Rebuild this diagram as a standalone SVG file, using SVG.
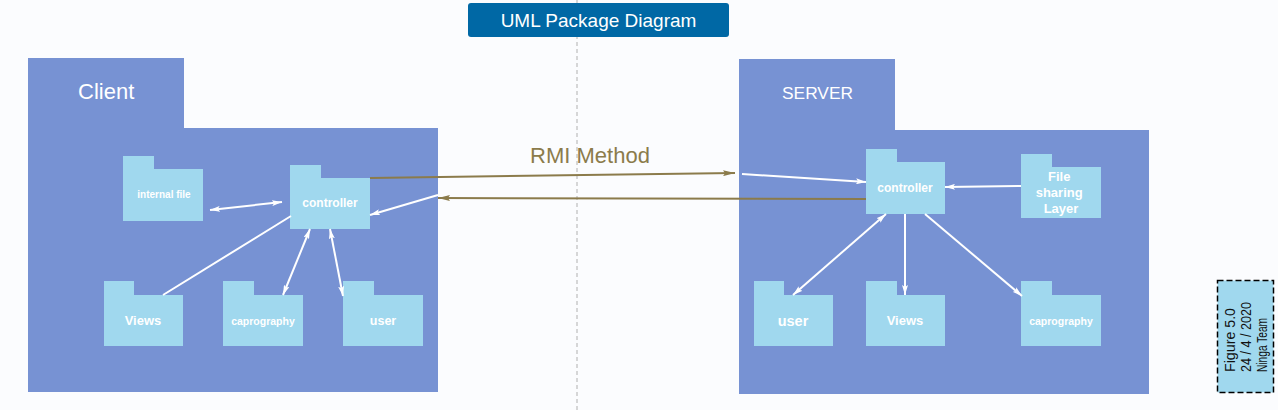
<svg xmlns="http://www.w3.org/2000/svg" width="1278" height="410" viewBox="0 0 1278 410">
<defs>
<style>
.pkg{fill:#7792D3}
.sub{fill:#A0D8EE}
.lbl{font-family:"Liberation Sans",Arial,sans-serif;fill:#ffffff;text-anchor:middle;font-weight:bold}
.wl{stroke:#ffffff;stroke-width:2;fill:none}
.bl{stroke:#8B7B4B;stroke-width:2;fill:none}
.fig{font-family:"Liberation Sans",Arial,sans-serif;font-size:15px;fill:#111111}
</style>
<marker id="aw" viewBox="0 0 10 6" refX="10" refY="3" markerWidth="10" markerHeight="6" markerUnits="userSpaceOnUse" orient="auto-start-reverse">
<path d="M0,0 L10,3 L0,6 L2,3 Z" fill="#ffffff"/>
</marker>
<marker id="ab" viewBox="0 0 12 6" refX="12" refY="3" markerWidth="12" markerHeight="6" markerUnits="userSpaceOnUse" orient="auto-start-reverse">
<path d="M0,0 L12,3 L0,6 L2,3 Z" fill="#8B7B4B"/>
</marker>
</defs>
<rect x="0" y="0" width="1278" height="410" fill="#FBFCFE"/>
<line x1="577" y1="0" x2="577" y2="410" stroke="#B0B0B0" stroke-width="1" stroke-dasharray="4,3"/>

<g id="title">
<rect x="468" y="3" width="261" height="34" rx="3" fill="#0068A5"/>
<text x="598.5" y="27" font-family="Liberation Sans,Arial,sans-serif" font-size="19" fill="#ffffff" text-anchor="middle">UML Package Diagram</text>
</g>

<g id="client">
<path class="pkg" d="M28,58 H184 V128 H438 V392 H28 Z"/>
<text x="78" y="99" font-family="Liberation Sans,Arial,sans-serif" font-size="22" fill="#ffffff">Client</text>
</g>
<g id="client-internal-file">
<path class="sub" d="M123,156 H154 V169 H203 V221 H123 Z"/>
<text x="164" y="198" class="lbl" font-size="10">internal file</text>
</g>
<g id="client-controller">
<path class="sub" d="M290,165 H321 V178 H370 V229 H290 Z"/>
<text x="330" y="207" class="lbl" font-size="12">controller</text>
</g>
<g id="client-views">
<path class="sub" d="M104,281 H134 V295 H183 V346 H104 Z"/>
<text x="143" y="325" class="lbl" font-size="13">Views</text>
</g>
<g id="client-caprography">
<path class="sub" d="M223,281 H254 V295 H303 V346 H223 Z"/>
<text x="263" y="325" class="lbl" font-size="10.5">caprography</text>
</g>
<g id="client-user">
<path class="sub" d="M343,281 H374 V295 H423 V346 H343 Z"/>
<text x="383" y="325" class="lbl" font-size="12.5">user</text>
</g>

<g id="server">
<path class="pkg" d="M739,59 H895 V130 H1149 V394 H739 Z"/>
<text x="782" y="99" font-family="Liberation Sans,Arial,sans-serif" font-size="16" fill="#ffffff" textLength="71" lengthAdjust="spacingAndGlyphs">SERVER</text>
</g>
<g id="server-controller">
<path class="sub" d="M866,149 H897 V162 H945 V214 H866 Z"/>
<text x="905" y="192" class="lbl" font-size="12">controller</text>
</g>
<g id="server-file-sharing">
<path class="sub" d="M1021,154 H1052 V167 H1101 V218 H1021 Z"/>
<text class="lbl" font-size="13">
<tspan x="1061" y="181">File</tspan>
<tspan x="1061" y="197">sharing</tspan>
<tspan x="1061" y="213">Layer</tspan>
</text>
</g>
<g id="server-user">
<path class="sub" d="M754,281 H784 V295 H833 V346 H754 Z"/>
<text x="793" y="326" class="lbl" font-size="14.5">user</text>
</g>
<g id="server-views">
<path class="sub" d="M866,281 H897 V295 H945 V346 H866 Z"/>
<text x="905" y="325" class="lbl" font-size="13">Views</text>
</g>
<g id="server-caprography">
<path class="sub" d="M1021,281 H1052 V295 H1101 V346 H1021 Z"/>
<text x="1061" y="325" class="lbl" font-size="10.5">caprography</text>
</g>

<g id="rmi-label">
<text x="590" y="163" font-family="Liberation Sans,Arial,sans-serif" font-size="22" fill="#8B7B4B" text-anchor="middle">RMI Method</text>
</g>

<g id="connectors">
<line class="wl" x1="210" y1="210" x2="282" y2="202" marker-start="url(#aw)" marker-end="url(#aw)"/>
<line class="wl" x1="163" y1="295" x2="291" y2="216"/>
<line class="wl" x1="283" y1="295" x2="310" y2="229" marker-start="url(#aw)" marker-end="url(#aw)"/>
<line class="wl" x1="330" y1="229" x2="343" y2="296" marker-start="url(#aw)" marker-end="url(#aw)"/>
<line class="wl" x1="438" y1="195" x2="370" y2="215" marker-end="url(#aw)"/>
<line class="bl" x1="370" y1="178" x2="735" y2="173" marker-end="url(#ab)"/>
<line class="bl" x1="866" y1="199" x2="438" y2="198" marker-end="url(#ab)"/>
<line class="wl" x1="742" y1="174" x2="866" y2="182" marker-end="url(#aw)"/>
<line class="wl" x1="1021" y1="186" x2="945" y2="187" marker-end="url(#aw)"/>
<line class="wl" x1="793" y1="295" x2="886" y2="214" marker-start="url(#aw)" marker-end="url(#aw)"/>
<line class="wl" x1="905" y1="214" x2="905" y2="295" marker-end="url(#aw)"/>
<line class="wl" x1="925" y1="214" x2="1022" y2="296" marker-end="url(#aw)"/>
</g>

<g id="figure-note">
<rect x="1217.5" y="280.5" width="56" height="112" fill="#A0D8EE" stroke="#000000" stroke-width="1.5" stroke-dasharray="6,3"/>
<text class="fig" transform="translate(1235,372) rotate(-90)" textLength="64" lengthAdjust="spacingAndGlyphs">Figure  5.0</text>
<text class="fig" transform="translate(1251,372) rotate(-90)" textLength="70" lengthAdjust="spacingAndGlyphs">24 / 4 / 2020</text>
<text class="fig" transform="translate(1267,372) rotate(-90)" textLength="54" lengthAdjust="spacingAndGlyphs">Ninga Team</text>
</g>
</svg>
